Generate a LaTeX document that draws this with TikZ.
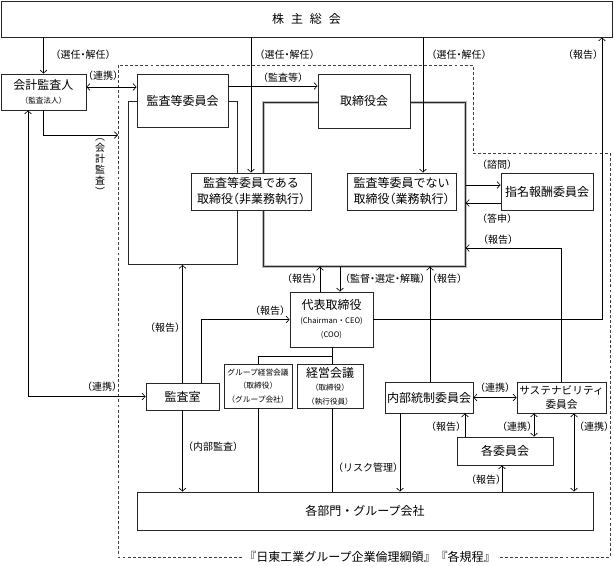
\documentclass[tikz,border=0pt]{standalone}
\usepackage{fontspec}
\setmainfont{Noto Sans CJK JP}
\newfontfamily\jphalf{Noto Sans CJK JP}[RawFeature = {+halt}]
\usetikzlibrary{arrows.meta}
\newcommand\lblfont{\fontsize{7.5}{9}\selectfont\jphalf}
\newcommand\jpsmall{\fontsize{5.7}{7.5}\selectfont}
\tikzset{
  org/.style = {draw = black!85, fill = white, inner sep = 0pt, align = center, font = \fontsize{9}{12}\selectfont},
  note/.style = {inner sep = 0pt, font = \lblfont},
  fence/.style = {draw = black!75, dash pattern = on 2.2pt off 1.6pt},
  arr/.style = {-{Straight Barb[length = 2.4pt, width = 5pt]}},
  arrs/.style = {{Straight Barb[length = 2.4pt, width = 5pt]}-{Straight Barb[length = 2.4pt, width = 5pt]}}
}
\begin{document}
\begin{tikzpicture}[x = 0.75pt, y = -0.75pt, line width = 0.5pt]
\pgfmathsetlengthmacro\px{0.75pt}
\useasboundingbox[fill = white] (0,0) rectangle (614,565);
\node[draw = black!85, minimum width = 109*\px, minimum height = 163*\px] (iinframe) at (182.5,183) {};
\node[draw = gray!50, double = black!85, double distance = 0.45pt, line width = 0.9pt, minimum width = 202*\px, minimum height = 164*\px] (torframe) at (364,184) {};
\node[inner sep = 1.5pt, font = \fontsize{9}{11}\selectfont] (rinri) at (370,557) {『日東工業グループ企業倫理綱領』『各規程』};
\draw[fence] (rinri.west) -| (118,65) -| (473,153) -| (610,557) -- (rinri.east);
\node[org, minimum width = 611*\px, minimum height = 36*\px] (soukai) at (306.5,19) {株\hspace{0.58em}主\hspace{0.58em}総\hspace{0.58em}会};
\node[org, minimum width = 85*\px, minimum height = 36*\px] (kaikei) at (43.5,92) {会計監査人\\[-1.5pt]{\jpsmall （監査法人）}};
\node[org, minimum width = 91*\px, minimum height = 53*\px] (iinkai) at (182.5,100.5) {監査等委員会};
\node[org, minimum width = 92*\px, minimum height = 54*\px] (torikai) at (364,101) {取締役会};
\node[org, minimum width = 120*\px, minimum height = 37*\px] (aru) at (251,191.5) {監査等委員である\\{\jphalf 取締役（非業務執行）}};
\node[org, minimum width = 109*\px, minimum height = 37*\px] (nai) at (401.5,191.5) {監査等委員でない\\{\jphalf 取締役（業務執行）}};
\node[org, minimum width = 92*\px, minimum height = 37*\px] (shimei) at (547,191.5) {指名報酬委員会};
\node[org, minimum width = 83*\px, minimum height = 55*\px] (daihyo) at (331.5,319.5) {代表取締役\\[-1.5pt]{\jpsmall (Chairman・CEO)}\\[-1.5pt]{\jpsmall (COO)}};
\node[org, minimum width = 68*\px, minimum height = 44*\px, font = \fontsize{5.8}{10}\selectfont] (group) at (258,386) {グループ経営会議\\（取締役）\\（グループ会社）};
\node[org, minimum width = 66*\px, minimum height = 44*\px] (keiei) at (330,386) {経営会議\\[-2pt]{\jpsmall （取締役）}\\[-2pt]{\jpsmall （執行役員）}};
\node[org, minimum width = 73*\px, minimum height = 27*\px] (kansashitsu) at (182.5,396.5) {監査室};
\node[org, minimum width = 88*\px, minimum height = 31*\px] (naibu) at (429,397.5) {内部統制委員会};
\node[org, minimum width = 89*\px, minimum height = 31*\px, font = \fontsize{8}{11}\selectfont] (sustain) at (561.5,397.5) {サステナビリティ\\委員会};
\node[org, minimum width = 96*\px, minimum height = 28*\px] (kaku) at (505,451) {各委員会};
\node[org, minimum width = 456*\px, minimum height = 38*\px] (bumon) at (365,511) {各部門・グループ会社};
\foreach \x/\y/\n/\t in {83/55/lsen1/（選任・解任）, 287/55/lsen2/（選任・解任）, 459/55/lsen3/（選任・解任）, 583/55/lhou1/（報告）, 103/76/lren1/（連携）, 283/78/lkan1/（監査等）, 497/165/lshi/（諮問）, 497/219/ltou/（答申）, 498/240/lhou2/（報告）, 302/279/lhou3/（報告）, 385/279/lkan2/（監督・選定・解職）, 447/279/lhou4/（報告）, 270/311/lhou5/（報告）, 165/328/lhou6/（報告）, 102/387/lren2/（連携）, 495/388/lren3/（連携）, 446/427/lhou7/（報告）, 517/427/lren4/（連携）, 594/427/lren5/（連携）, 213/447/lnai/（内部監査）, 368/468/lrisk/（リスク管理）, 486/480/lhou8/（報告）}
  \node[note] (\n) at (\x,\y) {\t};
\node[note, align = center, font = \fontsize{7.5}{8.2}\selectfont] (lkaikei) at (100,167) {︵\\会\\計\\監\\査\\︶};
\coordinate (kansa) at (118,135);
\coordinate (bunki) at (332,356);
\draw[arr] (soukai.south -| kaikei.north) -- (kaikei.north);
\draw[arr] (soukai.south -| aru.north) -- (aru.north);
\draw[arr] (soukai.south -| 423,0) -- (nai.north -| 423,0);
\draw[arr] (daihyo.east) -| (soukai.south -| 602,0);
\draw[arrs] (kaikei.east |- 0,87) -- (iinkai.west |- 0,87);
\draw[arr] (iinkai.east |- 0,86) -- (torikai.west |- 0,86);
\draw[arr] (kaikei.south) |- (kansa);
\draw[arrs] (kaikei.south -| 28,0) |- (kansashitsu.west);
\draw[arr] (torframe.east |- 0,185) -- (shimei.west |- 0,185);
\draw[arr] (shimei.west |- 0,203) -- (torframe.east |- 0,203);
\draw[arr] (sustain.north) |- (torframe.east |- 0,248);
\draw[arr] (daihyo.north -| 320,0) -- (torframe.south -| 320,0);
\draw[arr] (torframe.south -| 340,0) -- (daihyo.north -| 340,0);
\draw[arr] (naibu.north -| 430,0) -- (torframe.south -| 430,0);
\draw[arr] (kansashitsu.north) -- (iinframe.south);
\draw[arr] (kansashitsu.north -| 201,0) |- (daihyo.west);
\draw[arr] (kansashitsu.south) -- (kansashitsu.south |- bumon.north);
\draw (daihyo.south -| bunki) -- (keiei.north -| bunki);
\draw (bunki) -| (group.north);
\draw (group.south) -- (group.south |- bumon.north);
\draw (keiei.south -| bunki) -- (bumon.north -| bunki);
\draw[arr] (naibu.south -| 400,0) -- (bumon.north -| 400,0);
\draw[arrs] (naibu.east) -- (sustain.west);
\draw[arr] (kaku.north -| 465,0) -- (naibu.south -| 465,0);
\draw[arrs] (sustain.south -| 534,0) -- (kaku.north -| 534,0);
\draw[arrs] (sustain.south -| 574,0) -- (bumon.north -| 574,0);
\draw[arr] (bumon.north -| 502,0) -- (kaku.south -| 502,0);
\end{tikzpicture}
\end{document}
